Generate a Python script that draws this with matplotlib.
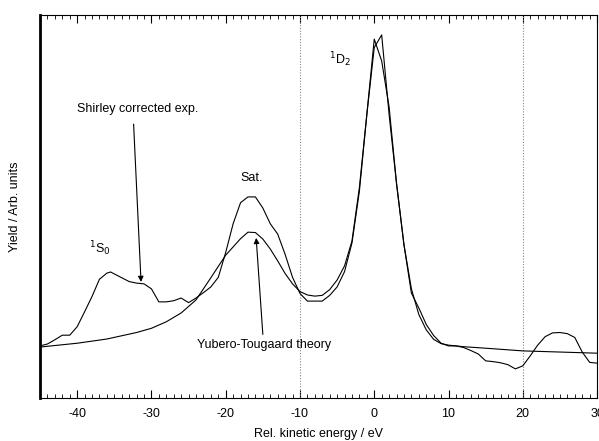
import matplotlib
matplotlib.use("Agg")
import matplotlib.pyplot as plt
from matplotlib.ticker import MultipleLocator, NullLocator

plt.rcParams['font.family'] = ['Liberation Sans', 'DejaVu Sans']
plt.rcParams['axes.unicode_minus'] = False

# Shirley corrected experimental spectrum (arb. units)
exp_x = [-45, -44, -43, -42, -41, -40, -39, -38, -37, -36, -35.5, -34, -33, -32, -31,
         -30, -29, -28, -27, -26, -25, -24, -23, -22, -21, -20, -19, -18, -17, -16,
         -15, -14, -13, -12, -11, -10, -9, -8, -7, -6, -5, -4, -3, -2, -1, 0, 1,
         2, 3, 4, 5, 6, 7, 8, 9, 10, 11, 12, 13, 14, 15, 16, 17, 18, 19, 20, 21,
         22, 23, 24, 25, 26, 27, 28, 29, 30]
exp_y = [13.6, 14.1, 15.2, 16.4, 16.4, 18.6, 22.5, 26.5, 31.0, 32.6, 32.9, 31.4, 30.4, 30.0, 29.8,
         28.5, 25.1, 25.1, 25.4, 26.1, 24.9, 26.1, 27.5, 29.0, 31.5, 38.0, 45.5, 51.0, 52.5, 52.5,
         49.6, 45.5, 42.8, 37.5, 31.5, 27.3, 25.3, 25.3, 25.3, 26.8, 29.0, 33.0, 40.5, 54.0, 74.0, 91.5, 94.8,
         74.0, 56.0, 40.0, 27.4, 23.5, 19.2, 16.3, 14.3, 13.6, 13.6, 13.2, 12.4, 11.5, 9.7, 9.5, 9.2, 8.7, 7.6, 8.4, 11.0,
         13.8, 16.0, 17.0, 17.1, 16.8, 15.8, 12.0, 9.3, 9.1]

# Yubero-Tougaard theory
th_x = [-45, -40, -36, -32, -30, -28, -26, -24, -22, -20, -18, -17, -16, -15, -14,
        -13, -12, -11, -10, -9, -8, -7, -6, -5, -4, -3, -2, -1, 0, 1, 2, 3, 4, 5,
        6, 7, 8, 9, 10, 12, 15, 20, 25, 30]
th_y = [13.3, 14.3, 15.4, 17.1, 18.2, 19.9, 22.2, 25.6, 31.4, 37.3, 41.6, 43.3, 43.2, 41.5, 38.9,
        35.8, 32.5, 29.8, 27.8, 26.9, 26.6, 26.8, 28.3, 30.8, 34.5, 41.0, 55.0, 74.0, 93.7, 88.0, 76.0, 56.0, 40.0, 28.5,
        21.8, 17.8, 15.3, 14.2, 13.8, 13.4, 13.0, 12.3, 12.0, 11.7]

guide_x = [-10, 20]

fig = plt.figure(figsize=(5.99, 4.41), dpi=100)
ax = fig.add_axes([0.0668, 0.0975, 0.93, 0.8685])

for gx in guide_x:
    ax.axvline(gx, color='#888888', lw=0.8, ls=(0, (1, 1.5)))

ax.plot(exp_x, exp_y, color='black', lw=0.8)
ax.plot(th_x, th_y, color='black', lw=0.8)

ax.set_xlim(-45, 30)
ax.set_ylim(0, 100)

ax.xaxis.set_major_locator(MultipleLocator(10))
ax.xaxis.set_minor_locator(MultipleLocator(1))
ax.yaxis.set_major_locator(NullLocator())
ax.tick_params(axis='x', which='major', direction='in', length=6, width=0.8,
               top=True, labelsize=9, pad=7)
ax.tick_params(axis='x', which='minor', direction='in', length=3, width=0.6, top=True)

ax.spines['left'].set_linewidth(2)
for s in ['right', 'top', 'bottom']:
    ax.spines[s].set_linewidth(0.8)

ax.set_xlabel('Rel. kinetic energy / eV', fontsize=9, labelpad=6)
ax.set_ylabel('Yield / Arb. units', fontsize=9, labelpad=14)

ax.text(-31.8, 75.5, 'Shirley corrected exp.', fontsize=9, ha='center', va='center')
ax.annotate('', xy=(-31.4, 30.3), xytext=(-32.4, 71.5),
            arrowprops=dict(arrowstyle='-|>', color='black', lw=0.8,
                            mutation_scale=8, shrinkA=0, shrinkB=0))
ax.text(-16.5, 57.4, 'Sat.', fontsize=9, ha='center', va='center')
ax.text(-37.0, 39.0, r'$^{1}$S$_{0}$', fontsize=9, ha='center', va='center')
ax.text(-4.6, 88.3, r'$^{1}$D$_{2}$', fontsize=9, ha='center', va='center')
ax.text(-14.9, 13.9, 'Yubero-Tougaard theory', fontsize=9, ha='center', va='center')
ax.annotate('', xy=(-15.9, 41.8), xytext=(-15.0, 16.6),
            arrowprops=dict(arrowstyle='-|>', color='black', lw=0.8,
                            mutation_scale=8, shrinkA=0, shrinkB=0))

fig.savefig('out.png', dpi=100)
